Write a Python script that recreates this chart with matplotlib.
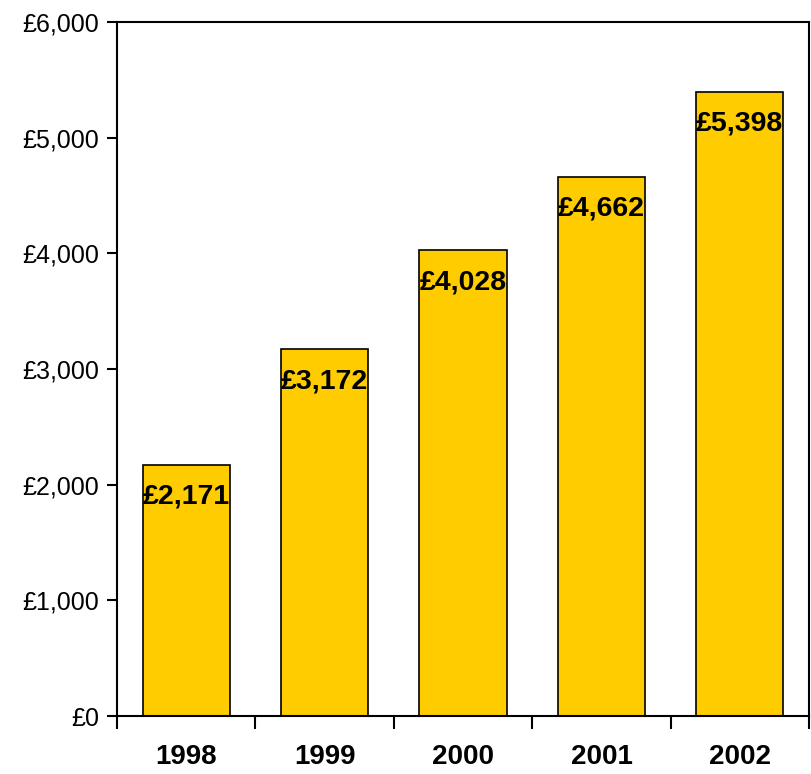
import matplotlib.pyplot as plt
from matplotlib.ticker import FuncFormatter, FixedLocator

plt.rcParams['font.family'] = ['Liberation Sans', 'DejaVu Sans']

years = ['1998', '1999', '2000', '2001', '2002']
values = [2171, 3172, 4028, 4662, 5398]

fig = plt.figure(figsize=(8.11, 7.74), dpi=100)
ax = fig.add_axes([0.1443, 0.0749, 0.8533, 0.8966])

x = list(range(len(years)))
ax.bar(x, values, width=0.63, color='#FFCC00', edgecolor='black', linewidth=1.2)

for xi, v in zip(x, values):
    ax.annotate(f'£{v:,}', (xi, v), xytext=(0, -23), textcoords='offset points',
                ha='center', va='center', fontsize=20.5, fontweight='bold')

ax.set_xlim(-0.5, len(years) - 0.5)
ax.set_ylim(0, 6000)
ax.set_yticks(range(0, 6001, 1000))
ax.yaxis.set_major_formatter(FuncFormatter(lambda v, p: f'£{int(v):,}'))
ax.set_xticks(x)
ax.set_xticklabels(years, fontsize=20, fontweight='bold')
ax.xaxis.set_minor_locator(FixedLocator([i - 0.5 for i in range(len(years) + 1)]))
ax.tick_params(axis='x', which='major', length=0, pad=20)
ax.tick_params(axis='x', which='minor', length=9, width=1.5, direction='out')
ax.tick_params(axis='y', length=7, width=1.5, direction='out', labelsize=18, pad=6)

for s in ax.spines.values():
    s.set_linewidth(1.5)

fig.savefig('out.png', dpi=100)
